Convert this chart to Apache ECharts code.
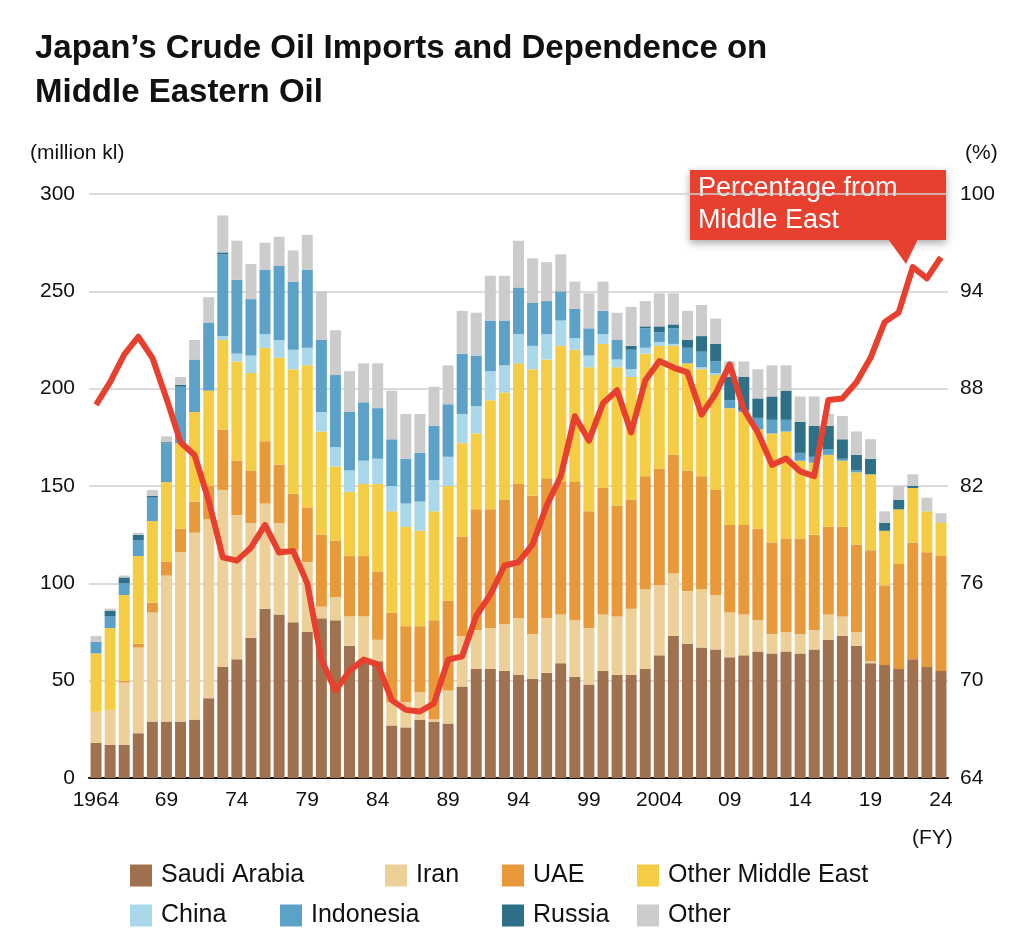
<!DOCTYPE html>
<html><head><meta charset="utf-8">
<script src="https://cdn.jsdelivr.net/npm/echarts@6/dist/echarts.min.js"></script>
<style>html,body{margin:0;padding:0;background:#fff}#c{width:1024px;height:936px}</style>
</head><body><div id="c"></div>
<script>
const years = [];
for (let y = 1964; y <= 2024; y++) years.push(String(y));
const saudi = [18,17,17,23,29,29,29,30,41,57,61,72,87,84,80,75,82,81,68,60,60,27,26,30,29,28,47,56,56,55,53,51,54,59,52,48,55,53,53,56,63,73,69,67,66,62,63,65,64,65,64,66,71,73,68,59,58,56,61,57,55];
const iran = [16,18,32,44,56,75,87,96,92,91,74,59,54,47,37,36,6,12,15,23,11,12,13,14,1,17,26,20,21,24,29,23,28,25,29,29,29,30,34,41,36,32,27,30,28,23,21,16,10,10,10,10,13,10,7,1,0,0,0,0,0];
const uae = [0,0,1,2,5,7,12,16,17,31,28,27,32,30,29,28,37,29,31,31,35,46,39,34,51,46,51,62,61,64,69,71,72,68,71,60,65,57,56,58,60,61,62,58,54,45,46,47,47,48,49,49,45,46,45,57,41,54,60,59,59];
const otherME = [30,42,44,45,42,41,44,46,49,46,51,50,48,55,64,73,53,38,33,37,45,52,51,49,56,59,48,39,56,55,62,65,61,70,68,74,74,71,63,63,63,56,55,55,59,60,58,51,56,55,40,37,37,34,37,39,28,28,28,21,17];
const china = [0,0,0,0,0,0,0,0,0,2,4,9,7,9,10,9,10,10,11,12,13,13,12,15,16,15,15,14,15,14,15,12,13,13,6,6,5,4,4,3,2,1,0,1,1,0,0,0,0,0,0,0,0,0,0,0,0,0,0,0,0];
const indonesia = [6,6,6,8,12,20,29,27,35,42,38,29,33,38,35,40,37,37,30,30,26,24,23,25,28,27,31,26,26,23,24,22,17,15,15,14,12,10,10,10,5,8,8,8,6,4,1,6,7,6,4,3,3,1,1,0,0,0,0,0,0];
const russia = [0,3,3,3,1,0.5,1,0,0,1,0,0,0,0,0,0,0,0,0,0,0,0,0,0,0,0,0,0,0,0,0,0,0,0,0,0,0,0,2,1,3,2,4,8,9,12,17,10,12,15,16,16,12,10,8,8,4,5,1,0,0];
const other = [3,1,1,1,3,3,4,10,13,19,20,18,14,15,16,18,25,23,21,20,23,25,23,20,20,20,22,22,23,23,24,23,20,19,14,18,15,14,20,13,17,16,15,16,13,8,8,15,16,13,13,15,6,12,12,10,6,7,6,7,5];
const pctME = [87.0,88.4,90.1,91.2,89.9,87.4,84.7,83.9,81.1,77.6,77.4,78.2,79.6,77.9,78.0,76.0,71.3,69.4,70.6,71.3,71.0,68.8,68.2,68.1,68.6,71.3,71.5,74.0,75.3,77.1,77.3,78.4,80.8,82.6,86.3,84.8,87.1,87.9,85.3,88.5,89.7,89.3,89.0,86.4,87.7,89.5,86.7,85.3,83.3,83.7,82.9,82.6,87.3,87.4,88.4,89.9,92.1,92.7,95.5,94.8,96.1];
const seriesNames = ['Saudi Arabia','Iran','UAE','Other Middle East','China','Indonesia','Russia','Other'];
const seriesData = [saudi, iran, uae, otherME, china, indonesia, russia, other];
const colors = ['#a0714f','#edd098','#e8993a','#f5cd44','#a8d8ea','#5ba1c8','#2d7088','#cccccc'];
const leftTicks = [0,50,100,150,200,250,300];
const rightTicks = [64,70,76,82,88,94,100];

const font = 'Helvetica, "Liberation Sans", Arial, sans-serif';
const chart = echarts.init(document.getElementById('c'));
const legendPos = [[125,858],[380,858],[497,858],[632,858],[125,898],[275,898],[497,898],[632,898]];
const legends = seriesNames.map((n,i)=>({
  data:[n], left:legendPos[i][0], top:legendPos[i][1], icon:'rect', itemWidth:22, itemHeight:22, itemGap:0,
  textStyle:{fontSize:25, color:'#111', fontFamily:font, padding:[0,0,0,4]}, selectedMode:false
}));
const series = seriesNames.map((n,i)=>({
  name:n, type:'bar', stack:'all', data:seriesData[i], itemStyle:{color:colors[i]},
  barCategoryGap:'22%', emphasis:{disabled:true}
}));
series.push({
  name:'pct', type:'line', yAxisIndex:1, data:pctME, symbol:'none', z:10,
  lineStyle:{color:'#e8402f', width:6, join:'round'}, emphasis:{disabled:true}
});
chart.setOption({
  animation:false,
  textStyle:{fontFamily:font},
  title:{text:'Japan\u2019s Crude Oil Imports and Dependence on\nMiddle Eastern Oil', left:30, top:22,
    textStyle:{fontSize:33, fontWeight:'bold', color:'#111', lineHeight:44, fontFamily:font}},
  legend:legends,
  grid:{left:89, right:76, top:194, bottom:158},
  xAxis:{type:'category', data:years,
    axisLine:{lineStyle:{color:'#111', width:2}}, axisTick:{show:false},
    axisLabel:{interval:4, fontSize:21, color:'#111', margin:12,
      formatter:v=>(v==='1964'||v==='2004')?v:v.slice(2)}},
  yAxis:[
    {type:'value', min:0, max:300, interval:50, position:'left',
     axisLabel:{fontSize:21, color:'#111', margin:14, formatter:v=>leftTicks.includes(v)?String(v):''},
     splitLine:{lineStyle:{color:'#cfcfcf', width:1.5}}, axisLine:{show:false}, axisTick:{show:false}},
    {type:'value', min:64, max:100, interval:6, position:'right',
     axisLabel:{fontSize:21, color:'#111', margin:12, formatter:v=>rightTicks.includes(v)?String(v):''},
     splitLine:{show:false}, axisLine:{show:false}, axisTick:{show:false}}
  ],
  graphic:[
    {type:'text', left:30, top:143, style:{text:'(million kl)', fontSize:21, fill:'#111', font:'21px '+font}},
    {type:'text', left:965, top:143, style:{text:'(%)', fill:'#111', font:'21px '+font}},
    {type:'text', left:912, top:828, style:{text:'(FY)', fill:'#111', font:'21px '+font}},
    {type:'group', z:100, children:[
      {type:'rect', shape:{x:690,y:170,width:256,height:70}, style:{fill:'#e8402f', shadowBlur:8, shadowColor:'rgba(0,0,0,0.35)', shadowOffsetY:3}},
      {type:'polygon', shape:{points:[[888,239],[918,239],[906,264]]}, style:{fill:'#e8402f'}},
      {type:'text', x:698, y:173, style:{text:'Percentage from\nMiddle East', fill:'#fff', font:'27px '+font, lineHeight:32}}
    ]}
  ],
  series:series
});
</script></body></html>
